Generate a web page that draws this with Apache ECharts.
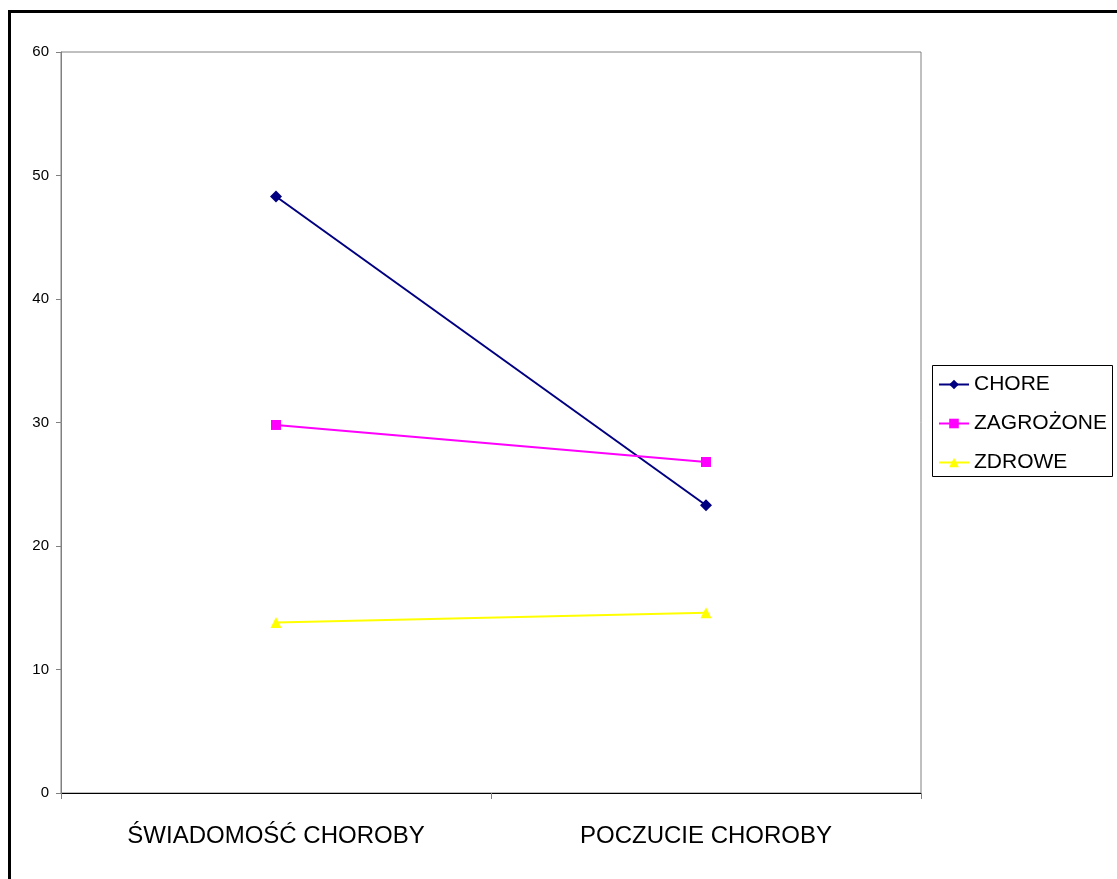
<!DOCTYPE html>
<html><head><meta charset="utf-8">
<script src="https://cdn.jsdelivr.net/npm/echarts@6/dist/echarts.min.js"></script>
<style>html,body{margin:0;padding:0;background:#fff}#c{width:1117px;height:879px}</style>
</head><body><div id="c"></div>
<script>
var categories = ['ŚWIADOMOŚĆ CHOROBY', 'POCZUCIE CHOROBY'];
var chore = [48.3, 23.3];
var zagrozone = [29.8, 26.8];
var zdrowe = [13.8, 14.6];
var seriesNames = ['CHORE', 'ZAGROŻONE', 'ZDROWE'];

var font = '"Liberation Sans", Arial, sans-serif';
var chart = echarts.init(document.getElementById('c'), null, {renderer: 'canvas'});
chart.setOption({
  animation: false,
  backgroundColor: '#fff',
  grid: {left: 61, top: 52, right: 196, bottom: 86, show: true, borderColor: '#808080', borderWidth: 1},
  xAxis: {
    type: 'category', data: categories, boundaryGap: true,
    axisLine: {lineStyle: {color: '#000', width: 1}},
    axisTick: {show: true, length: 6, lineStyle: {color: '#808080'}},
    axisLabel: {fontFamily: font, fontSize: 24, color: '#000', margin: 31}
  },
  yAxis: {
    type: 'value', min: 0, max: 60, interval: 10,
    splitLine: {show: false},
    axisLine: {show: true, lineStyle: {color: '#808080'}},
    axisTick: {show: true, length: 5, lineStyle: {color: '#808080'}},
    axisLabel: {fontFamily: font, fontSize: 15, color: '#000', margin: 12}
  },
  legend: {
    orient: 'vertical', left: 938, top: 374,
    itemWidth: 30, itemHeight: 12, itemGap: 18, padding: 0,
    textStyle: {fontFamily: font, fontSize: 21, color: '#000', lineHeight: 20},
    data: seriesNames
  },
  graphic: [
    {type: 'rect', shape: {x: 9.5, y: 11.5, width: 1200, height: 1000}, style: {fill: 'none', stroke: '#000', lineWidth: 3}, silent: true},
    {type: 'rect', shape: {x: 932.5, y: 365.5, width: 180, height: 111}, style: {fill: 'none', stroke: '#000', lineWidth: 1}, silent: true}
  ],
  series: [
    {name: seriesNames[0], type: 'line', data: chore, symbol: 'diamond', symbolSize: 12,
     lineStyle: {color: '#000080', width: 2}, itemStyle: {color: '#000080'}},
    {name: seriesNames[1], type: 'line', data: zagrozone, symbol: 'rect', symbolSize: 10,
     lineStyle: {color: '#FF00FF', width: 2}, itemStyle: {color: '#FF00FF'}},
    {name: seriesNames[2], type: 'line', data: zdrowe, symbol: 'triangle', symbolSize: 11,
     lineStyle: {color: '#FFFF00', width: 2}, itemStyle: {color: '#FFFF00'}}
  ]
});
</script></body></html>
